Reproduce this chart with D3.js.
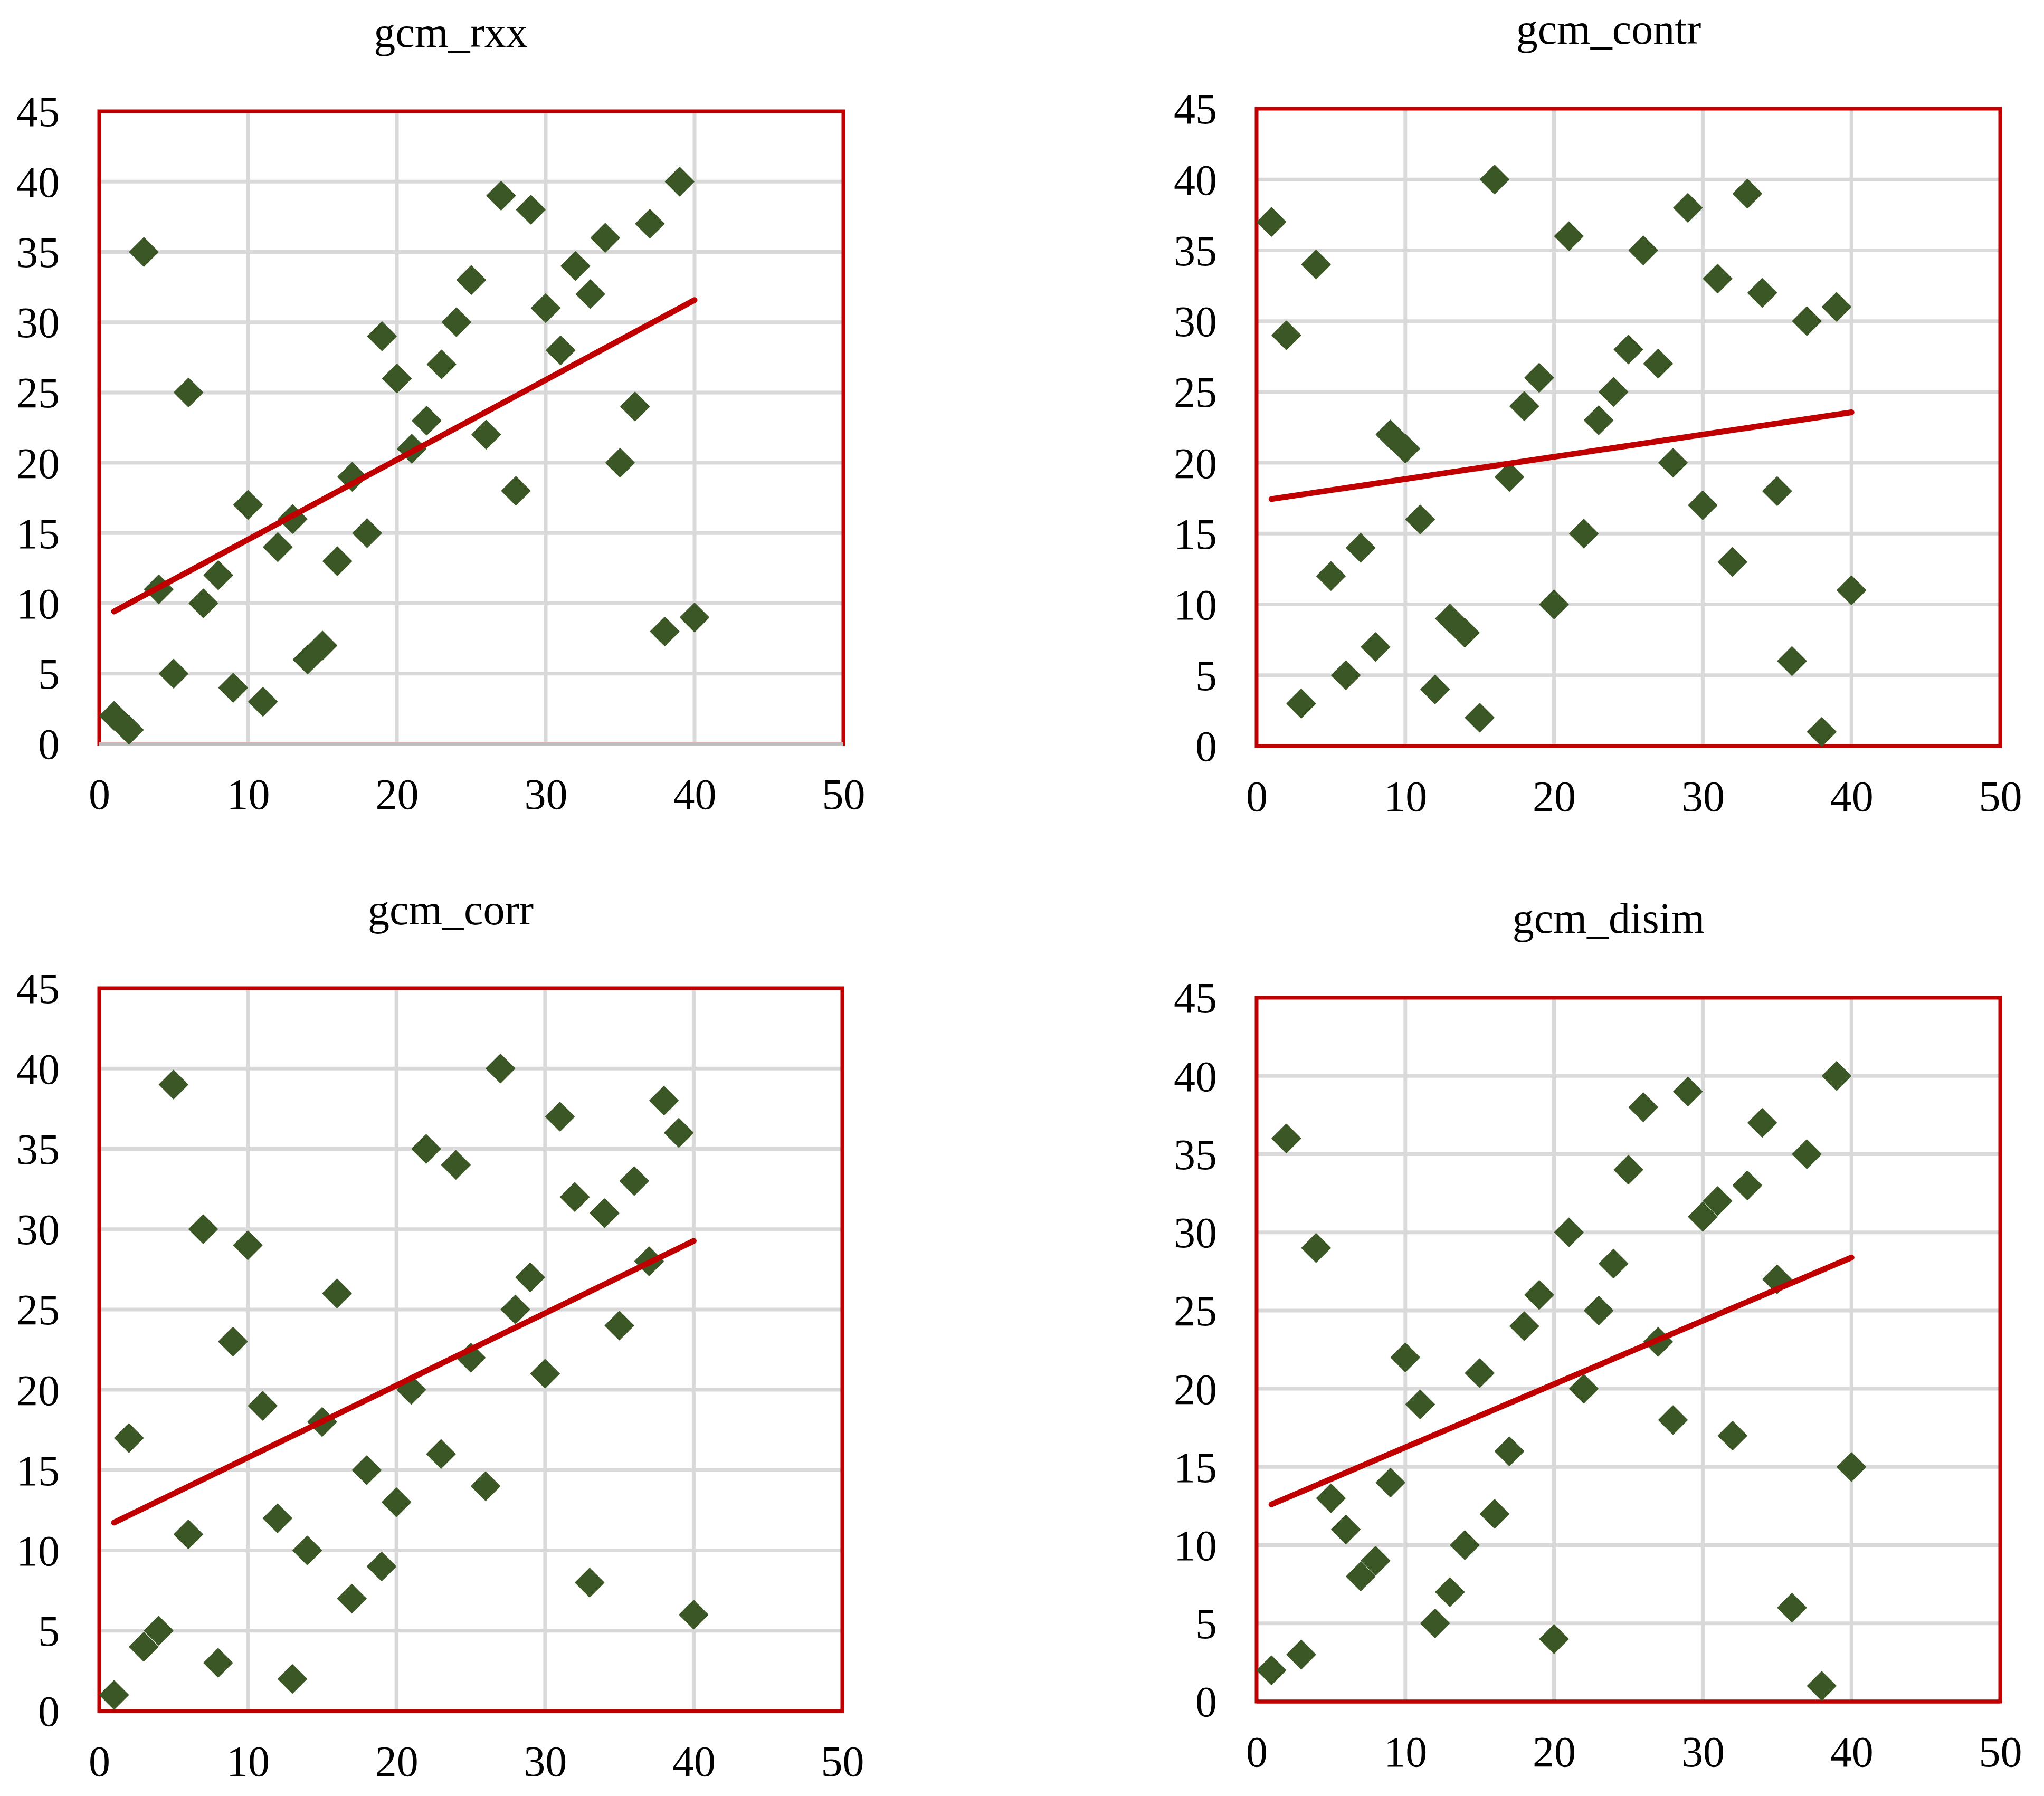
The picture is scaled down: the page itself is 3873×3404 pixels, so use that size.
<!DOCTYPE html>
<html>
<head>
<meta charset="utf-8">
<script src="https://cdn.jsdelivr.net/npm/d3@7"></script>
<style>
  body { margin: 0; background: #fff; }
  svg { display: block; }
</style>
</head>
<body>
<script>
// x is the rank 1..40 in every panel, y the rank under each measure
const ranks = [1,2,3,4,5,6,7,8,9,10,11,12,13,14,15,16,17,18,19,20,
               21,22,23,24,25,26,27,28,29,30,31,32,33,34,35,36,37,38,39,40]
const rxx   = [2,1,35,11,5,25,10,12,4,17,3,14,16,6,7,13,19,15,29,26,
               21,23,27,30,33,22,39,18,38,31,28,34,32,36,20,24,37,8,40,9]
const contr = [37,29,3,34,12,5,14,7,22,21,16,4,9,8,2,40,19,24,26,10,
               36,15,23,25,28,35,27,20,38,17,33,13,39,32,18,6,30,1,31,11]
const corr  = [1,17,4,5,39,11,30,3,23,29,19,12,2,10,18,26,7,15,9,13,
               20,35,16,34,22,14,40,25,27,21,37,32,8,31,24,33,28,38,36,6]
const disim = [2,36,3,29,13,11,8,9,14,22,19,5,7,10,21,12,16,24,26,4,
               30,20,25,28,34,38,23,18,39,31,32,17,33,37,27,6,35,1,40,15]

const titles = ["gcm_rxx", "gcm_contr", "gcm_corr", "gcm_disim"]
const xTicks = [0, 10, 20, 30, 40, 50]
const yTicks = [0, 5, 10, 15, 20, 25, 30, 35, 40, 45]

const W = 3873, H = 3404
const font = "'Liberation Serif', 'Times New Roman', serif"
const red = "#c00000", green = "#3b5726", grid = "#d9d9d9"

// plot boxes
const panels = [
  {title: titles[0], ys: rxx,   left: 188,  right: 1598, top: 211,  bottom: 1410, tx: 854,  ty: 89,   base: "#bfbfbf"},
  {title: titles[1], ys: contr, left: 2381, right: 3790, top: 206,  bottom: 1414, tx: 3048, ty: 83,   base: red},
  {title: titles[2], ys: corr,  left: 188,  right: 1596, top: 1873, bottom: 3243, tx: 854,  ty: 1752, base: red},
  {title: titles[3], ys: disim, left: 2381, right: 3790, top: 1891, bottom: 3225, tx: 3048, ty: 1768, base: red}
]

const svg = d3.select("body").append("svg")
  .attr("width", W).attr("height", H)
  .attr("viewBox", `0 0 ${W} ${H}`)

const diamond = d3.symbol(d3.symbolSquare, 1458)

function fit(xs, ys) {
  let mx = d3.mean(xs), my = d3.mean(ys)
  let sxy = d3.sum(xs, (x, i) => (x - mx) * (ys[i] - my))
  let sxx = d3.sum(xs, x => (x - mx) * (x - mx))
  let b = sxy / sxx
  return {b: b, a: my - b * mx}
}

panels.forEach(p => {
  const x = d3.scaleLinear().domain([0, 50]).range([p.left, p.right])
  const y = d3.scaleLinear().domain([0, 45]).range([p.bottom, p.top])
  const g = svg.append("g")

  g.append("text")
    .attr("x", p.tx).attr("y", p.ty)
    .attr("text-anchor", "middle")
    .style("font-family", font).style("font-size", "82px")
    .text(p.title)

  // grid
  g.append("g").selectAll("line.v").data(xTicks.filter(t => t > 0 && t < 50))
    .join("line")
    .attr("x1", d => x(d)).attr("x2", d => x(d))
    .attr("y1", p.top).attr("y2", p.bottom)
    .attr("stroke", grid).attr("stroke-width", 7)
  g.append("g").selectAll("line.h").data(yTicks.filter(t => t > 0 && t < 45))
    .join("line")
    .attr("x1", p.left).attr("x2", p.right)
    .attr("y1", d => y(d)).attr("y2", d => y(d))
    .attr("stroke", grid).attr("stroke-width", 7)

  // plot area border
  g.append("rect")
    .attr("x", p.left).attr("y", p.top)
    .attr("width", p.right - p.left).attr("height", p.bottom - p.top)
    .attr("fill", "none").attr("stroke", red).attr("stroke-width", 7)
  g.append("line")
    .attr("x1", p.left).attr("x2", p.right)
    .attr("y1", p.bottom).attr("y2", p.bottom)
    .attr("stroke", p.base).attr("stroke-width", 7)

  // axes: labels only
  const ax = g.append("g")
    .attr("transform", `translate(0,${p.bottom + 123})`)
    .call(d3.axisBottom(x).tickValues(xTicks).tickSize(0).tickPadding(0))
  ax.select(".domain").remove()
  ax.selectAll("text").attr("dy", 0).attr("y", 0)
    .attr("fill", "#000")
    .style("font-family", font).style("font-size", "82px")

  const ay = g.append("g")
    .attr("transform", `translate(${p.left - 75},0)`)
    .call(d3.axisLeft(y).tickValues(yTicks).tickSize(0).tickPadding(0))
  ay.select(".domain").remove()
  ay.selectAll("text").attr("x", 0).attr("dy", "0.34em")
    .attr("fill", "#000")
    .style("font-family", font).style("font-size", "82px")

  // points
  g.append("g").selectAll("path")
    .data(ranks.map((r, i) => [r, p.ys[i]]))
    .join("path")
    .attr("d", diamond)
    .attr("transform", d => `translate(${x(d[0])},${y(d[1])}) rotate(45)`)
    .attr("fill", green).attr("stroke", green)
    .attr("stroke-width", 2).attr("stroke-linejoin", "round")

  // linear trend line
  const t = fit(ranks, p.ys)
  const ext = d3.extent(ranks)
  g.append("path")
    .attr("d", d3.line().x(d => x(d)).y(d => y(t.a + t.b * d))(ext))
    .attr("fill", "none").attr("stroke", red)
    .attr("stroke-width", 11).attr("stroke-linecap", "round")
})
</script>
</body>
</html>
